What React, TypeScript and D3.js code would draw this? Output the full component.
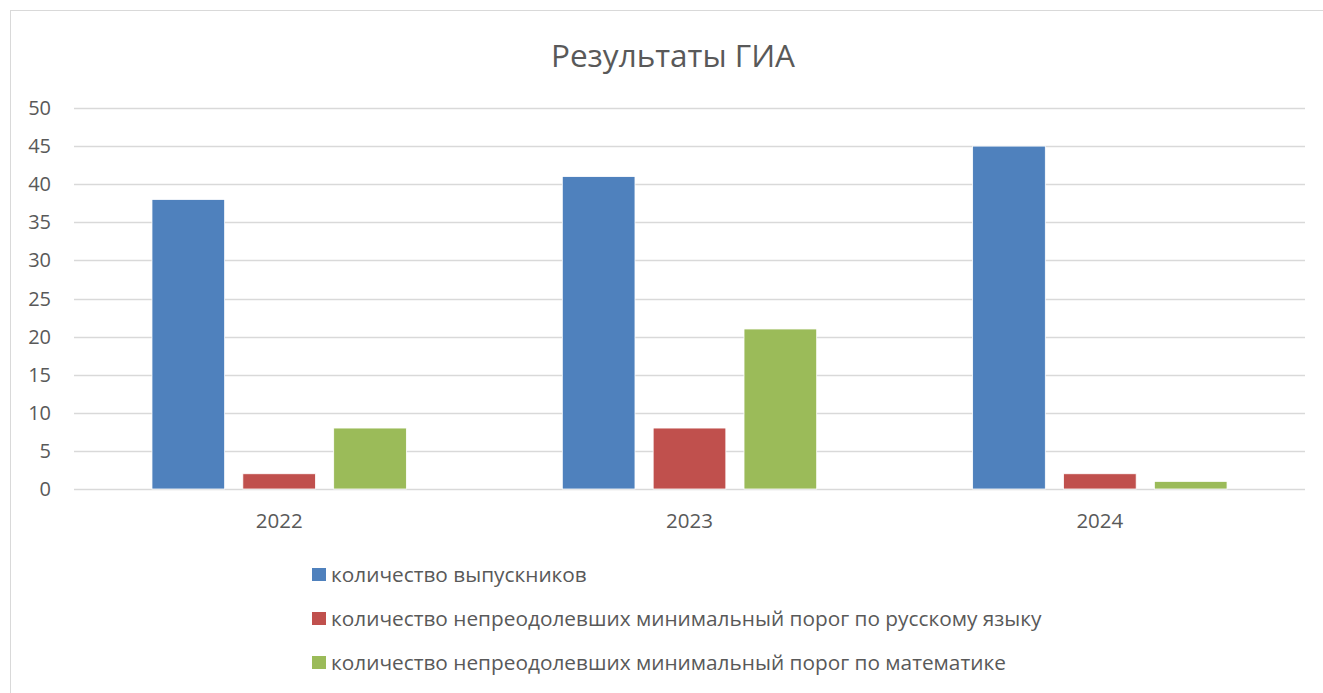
import { useEffect, useRef } from "react";
import * as d3 from "d3";

const years = ["2022", "2023", "2024"];
const seriesNames = [
  "количество выпускников",
  "количество непреодолевших минимальный порог по русскому языку",
  "количество непреодолевших минимальный порог по математике",
];
const graduates = [38, 41, 45];
const failedRussian = [2, 8, 2];
const failedMath = [8, 21, 1];
const yTicks = [0, 5, 10, 15, 20, 25, 30, 35, 40, 45, 50];
const colors = ["#4f81bd", "#c0504d", "#9bbb59"];

const W = 1323;
const H = 693;
const font = "'Open Sans', 'Noto Sans', sans-serif";

export default function App() {
  const ref = useRef<SVGSVGElement>(null);

  useEffect(() => {
    const svg = d3.select(ref.current);
    svg.selectAll("*").remove();

    const values = [graduates, failedRussian, failedMath];

    // chart frame
    svg.append("rect")
      .attr("x", 10.5).attr("y", 10.5)
      .attr("width", W + 20).attr("height", H + 20)
      .attr("fill", "#fff").attr("stroke", "#d9d9d9");

    svg.append("text")
      .attr("x", 673).attr("y", 67)
      .attr("text-anchor", "middle")
      .attr("font-family", font).attr("font-size", 31.5)
      .attr("fill", "#595959")
      .text("Результаты ГИА");

    const x = d3.scaleBand().domain(years).range([74, 1305]).paddingInner(0.38).paddingOuter(0.19);
    const x1 = d3.scaleBand().domain(d3.range(3).map(String)).range([0, x.bandwidth()]).paddingInner(0.2);
    const y = d3.scaleLinear().domain([0, 50]).range([489, 108]);

    const grid = svg.append("g");
    grid.selectAll("line").data(yTicks).join("line")
      .attr("x1", 74).attr("x2", 1305)
      .attr("y1", (d) => Math.round(y(d)) + 0.5).attr("y2", (d) => Math.round(y(d)) + 0.5)
      .attr("stroke", "#d9d9d9").attr("stroke-width", 1.3);

    svg.append("g").selectAll("text").data(yTicks).join("text")
      .attr("x", 51).attr("y", (d) => y(d) + 7)
      .attr("text-anchor", "end")
      .attr("font-family", font).attr("font-size", 20)
      .attr("fill", "#595959")
      .text((d) => d);

    years.forEach((yr, i) => {
      const g = svg.append("g").attr("transform", `translate(${x(yr)},0)`);
      values.forEach((s, j) => {
        g.append("rect")
          .attr("x", x1(String(j))!)
          .attr("y", y(s[i]))
          .attr("width", x1.bandwidth())
          .attr("height", y(0) - y(s[i]))
          .attr("fill", colors[j])
          .attr("stroke", "#fff").attr("stroke-width", 0.8);
      });
      svg.append("text")
        .attr("x", x(yr)! + x.bandwidth() / 2).attr("y", 528)
        .attr("text-anchor", "middle")
        .attr("font-family", font).attr("font-size", 20.5)
        .attr("fill", "#595959")
        .text(yr);
    });

    const legend = svg.append("g");
    seriesNames.forEach((name, j) => {
      const ly = 575 + j * 44;
      legend.append("rect")
        .attr("x", 312).attr("y", ly - 7).attr("width", 14).attr("height", 13)
        .attr("fill", colors[j]);
      legend.append("text")
        .attr("x", 331).attr("y", ly + 7)
        .attr("font-family", font).attr("font-size", 20.8)
        .attr("fill", "#595959")
        .text(name);
    });
  }, []);

  return (
    <svg ref={ref} width={W} height={H}
      style={{ position: "absolute", left: 0, top: 0, display: "block" }} />
  );
}
